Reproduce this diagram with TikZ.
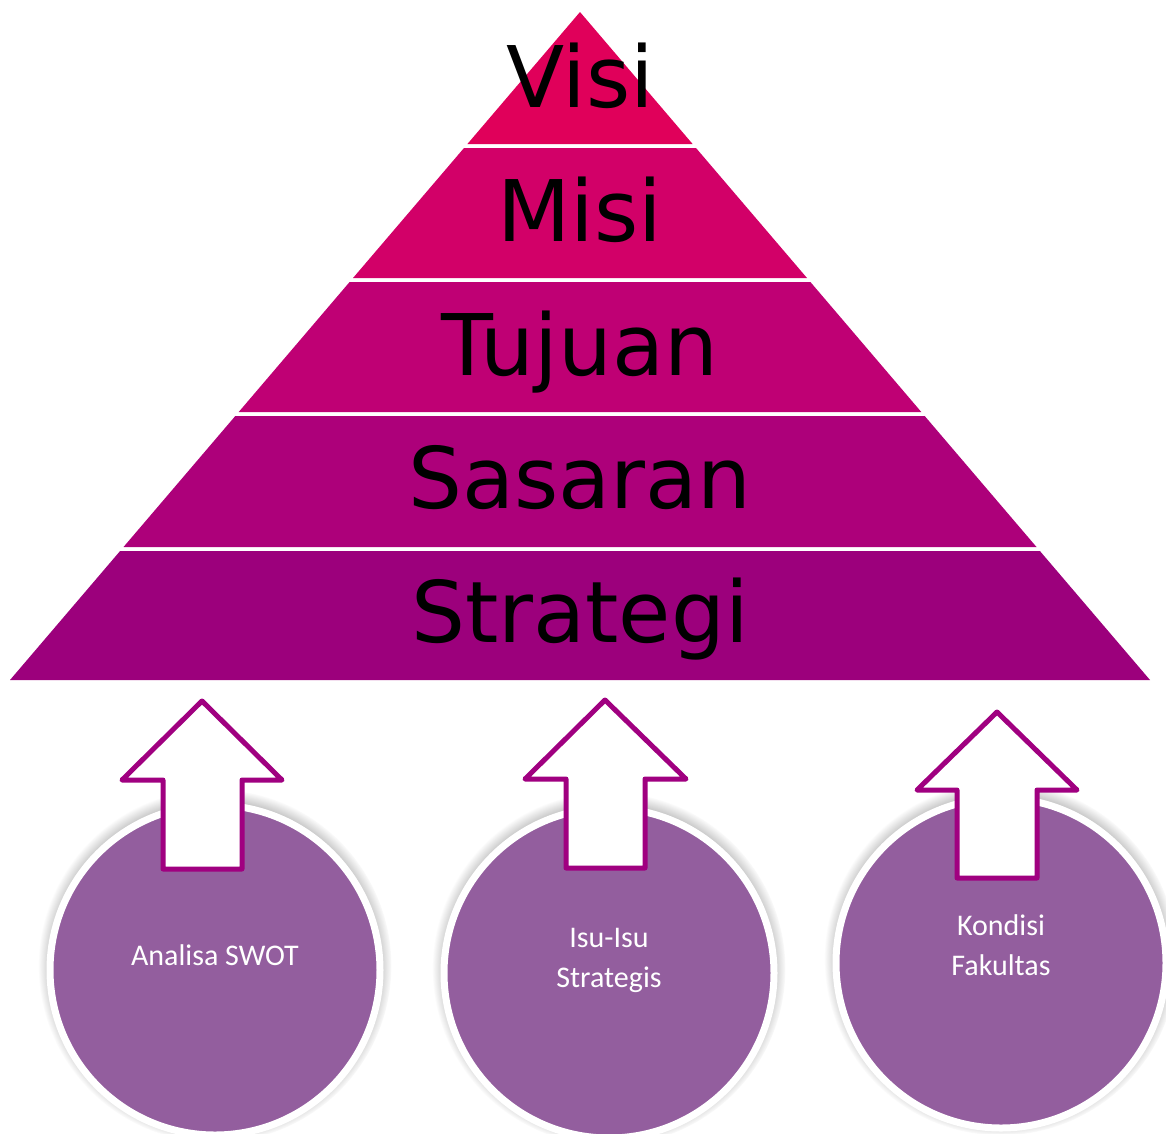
\documentclass[tikz,border=0pt]{standalone}
\usepackage{fontspec}
\newfontfamily\pyrfont{DejaVu Sans}
\newfontfamily\cirfont{Carlito}
\usetikzlibrary{shadows}
\definecolor{cVisi}{RGB}{224,0,90}
\definecolor{cMisi}{RGB}{210,0,104}
\definecolor{cTujuan}{RGB}{191,0,116}
\definecolor{cSasaran}{RGB}{173,0,122}
\definecolor{cStrategi}{RGB}{156,0,124}
\definecolor{cCircle}{RGB}{147,94,158}
\definecolor{cArrow}{RGB}{160,0,128}
\tikzset{
  layertext/.style={anchor=base, text=black, inner sep=0pt, font=\pyrfont\fontsize{85}{90}\selectfont},
  ball/.style={circle, minimum size=330pt, inner sep=0pt, fill=cCircle, draw=white, line width=7pt,
    circular drop shadow={shadow xshift=0pt, shadow yshift=4pt, shadow scale=1.07, opacity=0.9}},
  balltext/.style={text=white, align=center, font=\cirfont\fontsize{30}{40}\selectfont, inner sep=0pt},
  bigarrow/.style={draw=cArrow, fill=white, line width=5pt, line join=round}
}
\begin{document}
\begin{tikzpicture}[x=1pt,y=-1pt]
\useasboundingbox (0,0) rectangle (1166,1133);
% pyramid layers
\fill[cVisi] (580,12) -- (692.6,144) -- (467.4,144) -- cycle;
\fill[cMisi] (464,148) -- (696,148) -- (807,278) -- (353,278) -- cycle;
\fill[cTujuan] (349.6,282) -- (810.4,282) -- (921.3,412) -- (238.7,412) -- cycle;
\fill[cSasaran] (235.3,416) -- (924.7,416) -- (1036.5,547) -- (123.5,547) -- cycle;
\fill[cStrategi] (120.1,551) -- (1039.9,551) -- (1150,680) -- (10,680) -- cycle;
\node[layertext] (visi) at (580,107) {Visi};
\node[layertext] (misi) at (580,241) {Misi};
\node[layertext] (tujuan) at (580,375) {Tujuan};
\node[layertext] (sasaran) at (580,508) {Sasaran};
\node[layertext] (strategi) at (580,642) {Strategi};
% circles
\node[ball] (swot) at (215,970) {};
\node[ball] (isu) at (609,973) {};
\node[ball] (kondisi) at (1001,963) {};
% arrows
\draw[bigarrow] (202,701) -- (282,780) -- (242,780) -- (242,869) -- (163,869) -- (163,780) -- (122,780) -- cycle;
\draw[bigarrow] (605,700) -- (686,779) -- (645,779) -- (645,868) -- (566,868) -- (566,779) -- (525,779) -- cycle;
\draw[bigarrow] (997,712) -- (1077,790) -- (1037,790) -- (1037,878) -- (957,878) -- (957,790) -- (917,790) -- cycle;
% circle texts
\node[balltext, anchor=base] (t1) at (215,965) {Analisa SWOT};
\node[balltext, anchor=base] (t2a) at (609,947) {Isu-Isu};
\node[balltext, anchor=base] (t2b) at (609,987) {Strategis};
\node[balltext, anchor=base] (t3a) at (1001,935) {Kondisi};
\node[balltext, anchor=base] (t3b) at (1001,975) {Fakultas};
\end{tikzpicture}
\end{document}
